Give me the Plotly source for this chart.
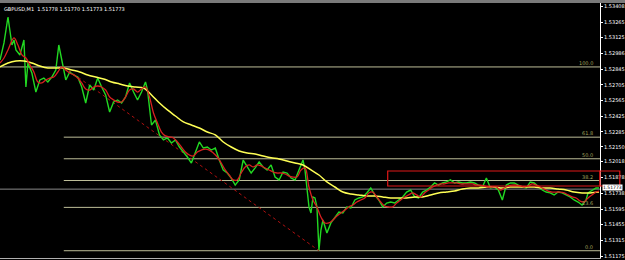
import plotly.graph_objects as go

# ---------------- data ----------------
title_text = "GBPUSD,M1  1.51778 1.51770 1.51773 1.51773"
current_price = 1.51773

price_x = [0,4,8,10,12,14,16,20,24,26,28,32,36,40,44,48,52,56,59,62,
           66,70,74,78,82,86,90,94,98,102,106,110,114,118,122,126,130,134,138,142,
           146,148,150,152,156,160,164,168,172,176,180,184,188,192,196,200,204,208,212,216,
           220,224,228,232,236,240,244,248,252,256,260,264,268,272,276,280,284,288,292,296,
           300,304,306,308,310,312,314,316,318,320,322,324,328,332,336,340,344,348,352,356,
           360,364,368,372,376,380,384,388,392,396,400,404,408,412,416,420,424,428,432,436,
           440,444,448,452,456,460,464,468,472,476,480,484,488,492,496,500,504,508,512,516,
           520,524,528,532,536,540,544,548,552,556,560,564,568,572,576,580,584,588,590,594,
           598,601]
price = [1.52926,1.53078,1.53310,1.53194,1.53060,1.53105,1.53016,1.52971,1.53105,1.52685,
         1.52899,1.52810,1.52640,1.52748,1.52765,1.52730,1.52774,1.52837,1.53060,1.52926,
         1.52748,1.52819,1.52792,1.52774,1.52685,1.52542,1.52703,1.52658,1.52765,1.52685,
         1.52614,1.52462,1.52551,1.52569,1.52542,1.52596,1.52721,1.52640,1.52569,1.52640,
         1.52730,1.52658,1.52480,1.52346,1.52390,1.52257,1.52212,1.52230,1.52185,1.52212,
         1.52149,1.52105,1.52060,1.52006,1.52096,1.52194,1.52140,1.52149,1.52122,1.52140,
         1.52033,1.51944,1.51917,1.51872,1.51809,1.51855,1.52033,1.51971,1.51917,1.51962,
         1.52015,1.51971,1.51944,1.51989,1.51881,1.51855,1.51926,1.51917,1.51872,1.51855,
         1.51944,1.52033,1.51944,1.51792,1.51614,1.51560,1.51703,1.51694,1.51614,1.51228,
         1.51408,1.51497,1.51381,1.51471,1.51524,1.51569,1.51560,1.51614,1.51605,1.51676,
         1.51694,1.51703,1.51739,1.51783,1.51721,1.51676,1.51614,1.51649,1.51658,1.51649,
         1.51676,1.51703,1.51747,1.51765,1.51703,1.51694,1.51747,1.51765,1.51792,1.51828,
         1.51809,1.51828,1.51837,1.51855,1.51828,1.51837,1.51828,1.51828,1.51837,1.51828,
         1.51809,1.51792,1.51872,1.51783,1.51792,1.51765,1.51676,1.51809,1.51828,1.51828,
         1.51809,1.51792,1.51783,1.51837,1.51828,1.51792,1.51765,1.51747,1.51739,1.51721,
         1.51747,1.51739,1.51721,1.51703,1.51676,1.51658,1.51631,1.51676,1.51739,1.51765,
         1.51783,1.51783]

fast_ma_x = [0,4,8,14,18,22,26,30,34,38,42,46,50,54,58,62,66,70,74,78,82,86,90,94,98,102,
             106,110,114,118,122,126,130,134,138,142,146,150,154,158,162,166,170,174,178,182,
             186,190,194,198,202,206,210,214,218,222,226,230,234,238,242,246,250,254,258,262,
             266,270,274,278,282,286,290,294,298,302,306,310,314,318,322,326,330,334,338,342,
             346,350,354,358,362,366,370,374,378,382,386,390,394,398,402,406,410,414,418,422,
             426,430,434,438,442,446,450,454,458,462,466,470,474,478,482,486,490,494,498,502,
             506,510,514,518,522,526,530,534,538,542,546,550,554,558,562,566,570,574,578,582,
             586,590,594,598,601]
fast_ma = [1.52899,1.52944,1.53016,1.53123,1.53060,1.52971,1.52944,1.52882,1.52819,1.52730,
           1.52721,1.52748,1.52765,1.52774,1.52819,1.52864,1.52837,1.52810,1.52792,1.52765,
           1.52721,1.52667,1.52658,1.52685,1.52694,1.52685,1.52658,1.52596,1.52569,1.52551,
           1.52551,1.52596,1.52658,1.52667,1.52640,1.52667,1.52685,1.52596,1.52453,1.52364,
           1.52283,1.52248,1.52239,1.52230,1.52194,1.52149,1.52105,1.52078,1.52069,1.52105,
           1.52122,1.52131,1.52122,1.52096,1.52060,1.52006,1.51944,1.51899,1.51855,1.51855,
           1.51917,1.51971,1.51989,1.51971,1.51989,1.51980,1.51962,1.51944,1.51926,1.51917,
           1.51917,1.51908,1.51890,1.51881,1.51881,1.51944,1.51962,1.51792,1.51676,1.51614,
           1.51524,1.51471,1.51471,1.51497,1.51533,1.51560,1.51587,1.51614,1.51631,1.51658,
           1.51676,1.51694,1.51739,1.51747,1.51703,1.51658,1.51622,1.51614,1.51614,1.51649,
           1.51676,1.51703,1.51721,1.51739,1.51721,1.51703,1.51739,1.51765,1.51792,1.51809,
           1.51819,1.51819,1.51828,1.51828,1.51828,1.51819,1.51819,1.51819,1.51819,1.51809,
           1.51809,1.51801,1.51792,1.51792,1.51792,1.51765,1.51783,1.51801,1.51809,1.51809,
           1.51801,1.51792,1.51801,1.51819,1.51809,1.51792,1.51774,1.51756,1.51747,1.51747,
           1.51747,1.51739,1.51721,1.51703,1.51694,1.51667,1.51658,1.51694,1.51721,1.51747,
           1.51756]

slow_ma_x = [0,8,16,24,32,40,48,56,64,72,80,88,96,104,112,120,128,136,144,152,160,168,176,
             184,192,200,208,216,224,232,240,248,256,264,272,280,288,296,304,312,320,328,336,
             344,352,360,368,376,384,392,400,408,416,424,432,440,448,456,464,472,480,488,496,
             504,512,520,528,536,544,552,560,568,576,584,592,601]
slow_ma = [1.52864,1.52899,1.52917,1.52917,1.52899,1.52873,1.52855,1.52855,1.52855,1.52837,
           1.52819,1.52792,1.52774,1.52757,1.52730,1.52712,1.52694,1.52685,1.52676,1.52614,
           1.52542,1.52480,1.52426,1.52373,1.52346,1.52319,1.52283,1.52257,1.52194,1.52149,
           1.52114,1.52096,1.52087,1.52069,1.52053,1.52042,1.52024,1.52006,1.51989,1.51944,
           1.51899,1.51837,1.51792,1.51747,1.51730,1.51721,1.51712,1.51712,1.51703,1.51694,
           1.51694,1.51694,1.51703,1.51703,1.51721,1.51739,1.51747,1.51756,1.51774,1.51783,
           1.51783,1.51792,1.51792,1.51783,1.51792,1.51792,1.51792,1.51792,1.51783,1.51783,
           1.51774,1.51765,1.51747,1.51739,1.51739,1.51747]

fib_labels = ["0.0", "23.6", "38.2", "50.0", "61.8", "100.0"]
fib_prices = [1.51223, 1.51610, 1.51850, 1.52044, 1.52237, 1.52864]
fib_start_x = [64, 64, 64, 64, 64, 0]
fib_trend_x = [64, 320]
fib_trend_price = [1.52864, 1.51223]

box_x0 = 389
box_prices = [1.51801, 1.51935]

tick_vals = [1.53408, 1.53265, 1.53125, 1.52986, 1.52845, 1.52705, 1.52565, 1.52425,
             1.52285, 1.52150, 1.52018, 1.51878, 1.51738, 1.51595, 1.51455, 1.51315, 1.51175]

X_MAX = 602
Y_RANGE = [1.51158, 1.53435]

# ---------------- figure ----------------
fig = go.Figure()

fib_line_color = "#bdbd98"
fib_text_color = "#a3a35c"

for lab, p, sx in zip(fib_labels, fib_prices, fib_start_x):
    fig.add_trace(go.Scatter(x=[sx, X_MAX], y=[p, p], mode="lines",
                             line=dict(color=fib_line_color, width=1),
                             hoverinfo="skip", showlegend=False))
    fig.add_annotation(x=597, y=p, xref="x", yref="y", text=lab, showarrow=False,
                       xanchor="right", yanchor="bottom", yshift=-1,
                       font=dict(size=5, color=fib_text_color, family="DejaVu Sans"))

# fib trend line (dotted)
fig.add_trace(go.Scatter(x=fib_trend_x, y=fib_trend_price, mode="lines",
                         line=dict(color="#b01010", width=1, dash="dot"),
                         hoverinfo="skip", showlegend=False))

# current price line
fig.add_trace(go.Scatter(x=[0, X_MAX], y=[current_price, current_price], mode="lines",
                         line=dict(color="#8a8a8a", width=1),
                         hoverinfo="skip", showlegend=False))

# price
fig.add_trace(go.Scatter(x=price_x, y=price, mode="lines",
                         line=dict(color="#22d822", width=1.4),
                         showlegend=False))
# moving averages
fig.add_trace(go.Scatter(x=slow_ma_x, y=slow_ma, mode="lines",
                         line=dict(color="#ffff55", width=1.5, shape="spline"),
                         showlegend=False))
fig.add_trace(go.Scatter(x=fast_ma_x, y=fast_ma, mode="lines",
                         line=dict(color="#d82020", width=1.3, shape="spline"),
                         showlegend=False))

# red rectangle (extends past the axis)
fig.add_shape(type="rect", xref="x", yref="y", x0=box_x0, x1=X_MAX,
              y0=box_prices[0], y1=box_prices[1],
              line=dict(color="#e01818", width=1.2), fillcolor="rgba(0,0,0,0)")
fig.add_shape(type="rect", xref="paper", yref="y", x0=1.0, x1=1.033,
              y0=box_prices[0], y1=box_prices[1],
              line=dict(color="#e01818", width=1.2), fillcolor="rgba(0,0,0,0)")

# top grey strip
fig.add_shape(type="rect", xref="paper", yref="paper", x0=-0.01, x1=1.05, y0=1.0, y1=1.03,
              line=dict(width=0), fillcolor="#7a7a7a")

# current price tag
fig.add_annotation(xref="paper", yref="y", x=1.0, y=current_price, xanchor="left",
                   xshift=2, yshift=2, text="1.51773", showarrow=False, bgcolor="#ffffff",
                   borderpad=0, font=dict(size=4.5, color="#000000", family="DejaVu Sans"))

# title
fig.add_annotation(xref="paper", yref="paper", x=0.004, y=0.995, xanchor="left",
                   yanchor="top", text=title_text, showarrow=False,
                   font=dict(size=5, color="#ffffff", family="DejaVu Sans"))

fig.update_layout(
    width=625, height=260,
    margin=dict(l=0, r=23, t=3, b=2),
    paper_bgcolor="#000000", plot_bgcolor="#000000",
    xaxis=dict(range=[0, X_MAX], showgrid=False, zeroline=False, showticklabels=False,
               showline=True, linecolor="#b0b0b0", linewidth=1, fixedrange=True),
    yaxis=dict(range=Y_RANGE, side="right", showgrid=False, zeroline=False,
               tickvals=tick_vals, ticktext=[f"{v:.5f}" for v in tick_vals],
               ticks="outside", ticklen=2, tickcolor="#ffffff", tickwidth=1,
               tickfont=dict(size=5, color="#ffffff", family="DejaVu Sans"),
               showline=True, linecolor="#ffffff", linewidth=1, fixedrange=True),
)

fig.write_html("out.html")
